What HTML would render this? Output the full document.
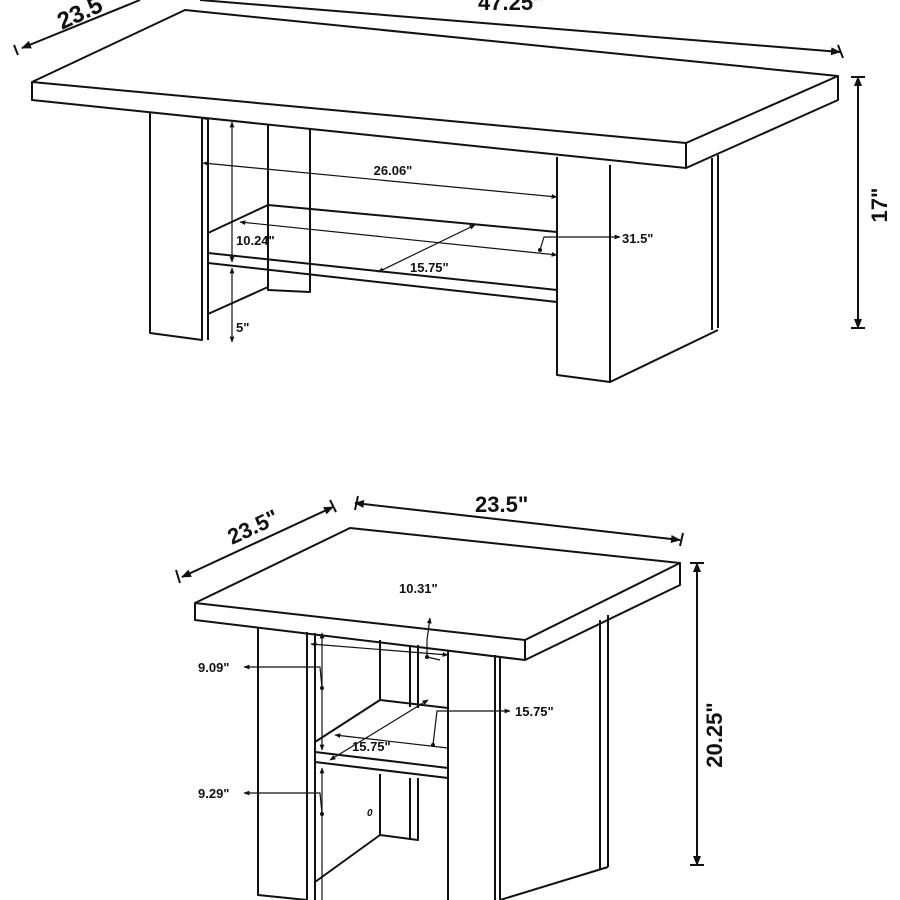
<!DOCTYPE html>
<html><head><style>body{margin:0;background:#fff}svg{display:block}text{font-family:"Liberation Sans",sans-serif;font-weight:bold;fill:#111}</style></head>
<body>
<svg width="900" height="900" viewBox="0 0 900 900" xmlns="http://www.w3.org/2000/svg">
<defs><marker id="a" viewBox="0 0 10 10" refX="9" refY="5" markerWidth="5" markerHeight="5" orient="auto-start-reverse"><path d="M0,1 L10,5 L0,9z" fill="#111"/></marker></defs>
<g fill="none" stroke="#111" stroke-width="2" stroke-linejoin="round">
<!-- TOP TABLE -->
<path d="M32,82 L185,10 L838,76 L686,143 Z"/>
<path d="M32,82 L32,100 L686,168 L686,143"/>
<path d="M686,168 L838,100 L838,76"/>
<path d="M150,113 L150,333 L202,340 L202,118"/>
<path d="M202,118 L208,119 L208,340"/>
<path d="M268,125 L268,290 L310,292 L310,128"/>
<path d="M557,157 L557,375 L610,382 L610,165"/>
<path d="M712,158 L712,330 M718,155 L718,328 M610,382 L718,330"/>
<path d="M208,233 L268,205 L557,232 M208,253 L557,290 L557,302 L208,263"/>
<path d="M208,314 L268,287"/>
<!-- dims top -->
<path d="M22,48 L140,0" marker-start="url(#a)"/>
<path d="M18,55 L14,45"/>
<path d="M200,0 L840,52" marker-end="url(#a)"/>
<path d="M843,58 L838,45"/>
<path d="M858,77 L858,328" marker-start="url(#a)" marker-end="url(#a)"/>
<path d="M851,77 L865,77 M851,328 L865,328"/>
<path d="M203,163 L557,197" marker-start="url(#a)" marker-end="url(#a)" stroke-width="1.2"/>
<path d="M232,122 L232,262" marker-start="url(#a)" marker-end="url(#a)" stroke-width="1.2"/>
<path d="M232,268 L232,342" marker-start="url(#a)" marker-end="url(#a)" stroke-width="1.2"/>
<path d="M240,222 L557,255" marker-start="url(#a)" marker-end="url(#a)" stroke-width="1.2"/>
<path d="M540,250 L544,237 L620,237" marker-end="url(#a)" stroke-width="1.2"/>
<path d="M378,272 L475,225" marker-start="url(#a)" marker-end="url(#a)" stroke-width="1.2"/>
<!-- BOTTOM TABLE -->
<path d="M195,603 L350,528 L680,563 L525,640 Z"/>
<path d="M195,603 L195,620 L525,660 L525,640"/>
<path d="M525,660 L680,585 L680,563"/>
<path d="M258,627 L258,895 L307,900 M307,632 L307,900 M315,633 L315,900"/>
<path d="M448,650 L448,900 M500,656 L500,900 M495,655 L495,900"/>
<path d="M600,620 L600,870 M608,615 L608,867 M500,900 L608,867"/>
<path d="M380,640 L380,700 M418,645 L418,708 M410,645 L410,707"/>
<path d="M315,742 L380,700 L448,708 M315,752 L448,768 L448,778 L315,762"/>
<path d="M380,774 L380,835 L418,840 L418,778 M410,778 L410,840 M315,882 L380,835"/>
<!-- dims bottom -->
<path d="M182,577 L333,507" marker-start="url(#a)" marker-end="url(#a)"/>
<path d="M180,583 L176,570 M336,512 L330,500"/>
<path d="M355,503 L680,540" marker-start="url(#a)" marker-end="url(#a)"/>
<path d="M355,510 L358,496 M680,546 L683,533"/>
<path d="M697,563 L697,865" marker-start="url(#a)" marker-end="url(#a)"/>
<path d="M690,563 L704,563 M690,865 L704,865"/>
<path d="M322,633 L322,750" marker-start="url(#a)" marker-end="url(#a)" stroke-width="1.2"/>
<path d="M322,768 L322,900" marker-start="url(#a)" stroke-width="1.2"/>
<path d="M311,644 L448,655" marker-start="url(#a)" marker-end="url(#a)" stroke-width="1.2"/>
<path d="M427,657 L440,660 M427,657 L427,640 L430,618" stroke-width="1.2" marker-end="url(#a)"/>
<path d="M322,688 L320,667 L244,667" marker-end="url(#a)" stroke-width="1.2"/>
<path d="M322,814 L320,793 L244,793" marker-end="url(#a)" stroke-width="1.2"/>
<path d="M330,760 L428,700" marker-start="url(#a)" marker-end="url(#a)" stroke-width="1.2"/>
<path d="M335,735 L448,748" marker-start="url(#a)" stroke-width="1.2"/>
<path d="M433,745 L437,711 L510,711" marker-end="url(#a)" stroke-width="1.2"/>
</g>
<g fill="#111">
<circle cx="322" cy="688" r="2"/><circle cx="322" cy="814" r="2"/><circle cx="427" cy="657" r="2"/><circle cx="433" cy="745" r="2"/><circle cx="540" cy="250" r="2"/>
</g>
<text x="62" y="30" font-size="24" transform="rotate(-25 62 30)">23.5</text>
<text x="478" y="10" font-size="22">47.25"</text>
<text x="887" y="205" font-size="22" transform="rotate(-90 887 205)" text-anchor="middle">17"</text>
<text x="393" y="175" font-size="13" text-anchor="middle">26.06"</text>
<text x="236" y="245" font-size="13">10.24"</text>
<text x="410" y="272" font-size="13">15.75"</text>
<text x="622" y="243" font-size="13">31.5"</text>
<text x="236" y="332" font-size="13">5"</text>
<text x="232" y="545" font-size="22" transform="rotate(-25 232 545)">23.5"</text>
<text x="475" y="512" font-size="22">23.5"</text>
<text x="722" y="735" font-size="22" transform="rotate(-90 722 735)" text-anchor="middle">20.25"</text>
<text x="399" y="593" font-size="13">10.31"</text>
<text x="198" y="672" font-size="13">9.09"</text>
<text x="198" y="798" font-size="13">9.29"</text>
<text x="515" y="716" font-size="13">15.75"</text>
<text x="352" y="751" font-size="13">15.75"</text>
<text x="367" y="816" font-size="10" font-style="italic">0</text>
</svg>
</body></html>
